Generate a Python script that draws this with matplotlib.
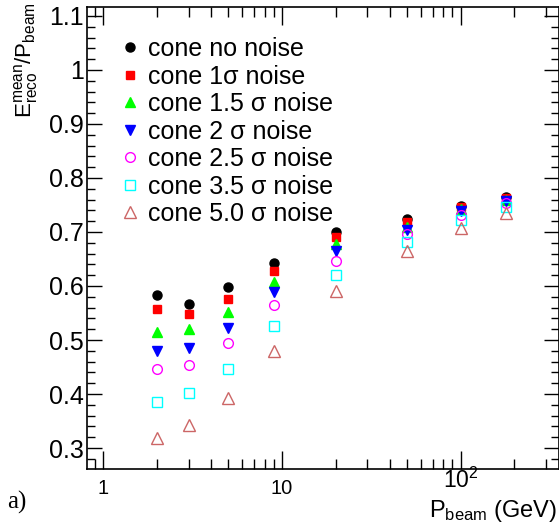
import numpy as np
import matplotlib
matplotlib.use('Agg')
import matplotlib.pyplot as plt
import matplotlib.transforms as mtransforms
from matplotlib.ticker import FixedLocator, NullFormatter, FixedFormatter, MultipleLocator

plt.rcParams['font.family'] = ['Liberation Sans', 'DejaVu Sans']
plt.rcParams['mathtext.fontset'] = 'custom'
plt.rcParams['mathtext.rm'] = 'Liberation Sans'
plt.rcParams['mathtext.it'] = 'Liberation Sans'

# beam momenta (GeV)
p_beam = [2, 3, 5, 9, 20, 50, 100, 180]

# mean reconstructed energy / beam momentum
cone_no_noise = [0.584, 0.567, 0.598, 0.642, 0.700, 0.724, 0.749, 0.765]
cone_1sigma = [0.558, 0.548, 0.576, 0.628, 0.690, 0.718, 0.746, 0.762]
cone_1p5sigma = [0.515, 0.520, 0.551, 0.608, 0.677, 0.710, 0.742, 0.759]
cone_2sigma = [0.479, 0.485, 0.523, 0.588, 0.665, 0.704, 0.738, 0.757]
cone_2p5sigma = [0.447, 0.454, 0.494, 0.565, 0.646, 0.696, 0.731, 0.754]
cone_3p5sigma = [0.385, 0.401, 0.446, 0.525, 0.620, 0.681, 0.722, 0.747]
cone_5sigma = [0.319, 0.342, 0.393, 0.480, 0.591, 0.664, 0.708, 0.736]

labels = ['cone no noise', 'cone 1\u03c3 noise', 'cone 1.5 \u03c3 noise', 'cone 2 \u03c3 noise',
          'cone 2.5 \u03c3 noise', 'cone 3.5 \u03c3 noise', 'cone 5.0 \u03c3 noise']
series = [cone_no_noise, cone_1sigma, cone_1p5sigma, cone_2sigma,
          cone_2p5sigma, cone_3p5sigma, cone_5sigma]

# (marker, colour, filled, size)
styles = [('o', 'black', True, 6.5),
          ('s', '#ff0000', True, 6.0),
          ('^', '#00ff00', True, 6.5),
          ('v', '#0000ff', True, 6.5),
          ('o', '#ff00ff', False, 7.0),
          ('s', '#00ffff', False, 7.0),
          ('^', '#cc6666', False, 8.0)]

fig = plt.figure(figsize=(5.59, 5.31), dpi=100)
ax = fig.add_axes([86.7 / 559, 1 - 469.3 / 531, (558.5 - 86.7) / 559, (469.3 - 7.3) / 531])

for vals, lab, (m, c, filled, ms) in zip(series, labels, styles):
    ax.plot(p_beam, vals, linestyle='none', marker=m, markersize=ms,
            markerfacecolor=c if filled else 'none', markeredgecolor=c,
            markeredgewidth=1.0, label=lab)

ax.set_xscale('log')
ax.set_xlim(0.808, 353)
ax.set_ylim(0.2606, 1.116)

# x ticks
ax.xaxis.set_major_locator(FixedLocator([1, 10, 100]))
ax.xaxis.set_major_formatter(FixedFormatter(['1', '10', '']))
ax.xaxis.set_minor_locator(FixedLocator([0.9] + list(np.arange(2, 10)) + list(np.arange(20, 100, 10))
                                        + [200, 300]))
ax.xaxis.set_minor_formatter(NullFormatter())
# y ticks
ax.yaxis.set_major_locator(MultipleLocator(0.1))
ax.yaxis.set_minor_locator(MultipleLocator(0.02))
ax.yaxis.set_major_formatter(matplotlib.ticker.FuncFormatter(
    lambda v, p: '1' if abs(v - 1) < 1e-6 else f'{v:.1f}'))

ax.tick_params(axis='both', which='both', direction='in', top=True, right=True, width=1.0)
ax.tick_params(axis='y', which='major', length=11, labelsize=18, pad=2)
ax.tick_params(axis='y', which='minor', length=6)
ax.tick_params(axis='x', which='major', length=13, labelsize=14.5, pad=7)
ax.tick_params(axis='x', which='minor', length=7)
for s in ax.spines.values():
    s.set_linewidth(1.2)

# 10^2 label is raised like in the original
trans = mtransforms.blended_transform_factory(ax.transData, fig.transFigure)
ax.text(100, 1 - 468 / 531, r'$\mathregular{10^{2}}$', transform=trans,
        ha='center', va='top', fontsize=16.5)

fig.text(557 / 559, 1 - 517 / 531, r'$\mathregular{P_{beam}}$ (GeV)', ha='right',
         va='baseline', fontsize=17)
fig.text(26 / 559, 1 - 2 / 531, r'$\mathregular{E_{reco}^{mean}/P_{beam}}$', rotation=90,
         ha='center', va='top', fontsize=16)
fig.text(7 / 559, 1 - 502 / 531, 'a)', family=['Liberation Serif'], fontsize=18,
         ha='left', va='center')

ax.legend(loc='upper left', bbox_to_anchor=(117 / 559, 1 - 37 / 531),
          bbox_transform=fig.transFigure, frameon=False,
          fontsize=18, handlelength=1.0, handletextpad=0.22, labelspacing=0.14,
          borderpad=0, borderaxespad=0, numpoints=1)

fig.savefig('out.png', dpi=100)
